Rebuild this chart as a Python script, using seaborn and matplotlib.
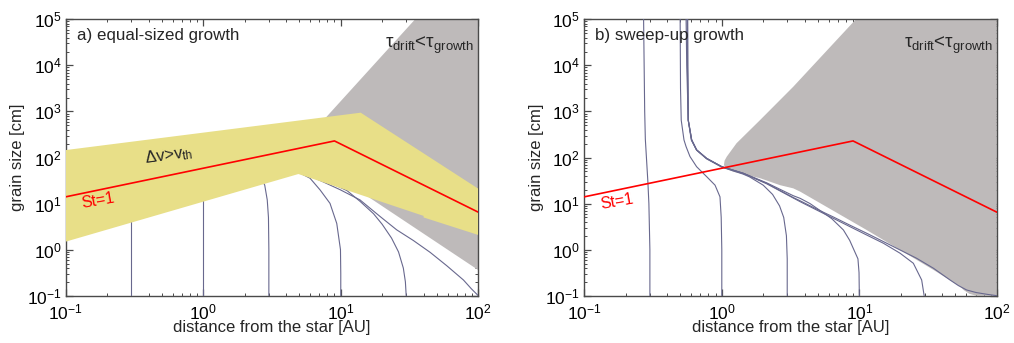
import matplotlib
matplotlib.use("Agg")
import matplotlib.pyplot as plt
import seaborn as sns
from matplotlib.ticker import FixedLocator, LogLocator, LogFormatterMathtext, NullFormatter

# ---------------------------------------------------------------- data
# axis ticks
x_ticks = [0.1, 1.0, 10.0, 100.0]
y_ticks = [0.1, 1.0, 10.0, 100.0, 1e3, 1e4, 1e5]

# Stokes number unity line (distance [AU], grain size [cm])
st1_x = [0.1, 9.0, 100.0]
st1_y = [14.0, 229.0, 6.5]

# fragmentation band (relative velocity above threshold), panel a
band_upper_x = [0.1, 13.96, 100.0]
band_upper_y = [145.0, 940.0, 21.0]
band_lower_x = [100.0, 40.0, 40.0, 4.92, 0.1]
band_lower_y = [2.08, 5.0, 5.4, 43.8, 1.49]

# drift-dominated region, panel a
drift_a_x = [4.8, 34.7, 100.0, 100.0]
drift_a_y = [150.0, 1e5, 1e5, 0.36]

# drift-dominated region, panel b
drift_b_x = [9.44, 100.0, 100.0, 70.8, 63.1, 57.5, 54.0, 34.6, 11.3, 3.71, 3.31,
             2.65, 1.90, 1.21, 1.07, 1.037, 1.047, 1.086, 1.28, 1.90, 3.31, 9.44]
drift_b_y = [1e5, 1e5, 0.1, 0.1, 0.11, 0.132, 0.158, 0.363, 2.67, 18.2, 21.4,
             25.1, 35.5, 49.2, 57.5, 68.7, 85.1, 104.0, 204.0, 652.0, 3443.0, 1e5]

# growth tracks, panel a (equal-sized growth)
a_tracks = {
    "0.3": ([0.3, 0.3], [0.1, 5.0]),
    "1": ([1.0, 1.0], [0.1, 13.0]),
    "3": ([3.0, 3.0, 2.98, 2.92, 2.80, 2.70], [0.1, 1.0, 5.0, 12.0, 25.0, 32.0]),
    "10": ([10.0, 10.0, 9.95, 9.35, 8.35, 7.08, 5.98, 5.2, 4.9],
           [0.1, 0.3, 1.0, 3.7, 10.1, 19.7, 35.5, 44.0, 48.0]),
    "30": ([29.9, 29.5, 28.5, 26.3, 23.4, 20.0, 17.3, 13.8, 11.1, 8.83, 7.46, 6.31, 5.5],
           [0.1, 0.2, 0.398, 0.891, 1.78, 3.55, 6.03, 11.2, 19.1, 26.3, 31.6, 38.0, 42.7]),
    "100": ([100.0, 89.1, 78.0, 59.0, 44.7, 33.7, 25.5, 19.3, 13.8, 9.89, 7.46, 6.31, 5.5],
            [0.1, 0.141, 0.219, 0.447, 0.871, 1.58, 2.69, 5.25, 12.0, 20.0, 29.5, 37.2, 42.7]),
}

# growth tracks, panel b (sweep-up growth)
b_tracks = {
    "0.3": ([0.30, 0.30, 0.295, 0.29, 0.278, 0.275, 0.27],
            [0.1, 1.0, 10.0, 30.0, 250.0, 1e3, 1e5]),
    "1": ([1.0, 1.0, 0.99, 0.97, 0.893, 0.776, 0.656, 0.587, 0.55, 0.531, 0.507, 0.501, 0.498],
          [0.1, 1.0, 5.0, 14.0, 25.1, 38.4, 63.1, 105.0, 172.0, 240.0, 646.0, 3162.0, 1e5]),
    "3": ([2.99, 2.99, 2.95, 2.82, 2.63, 2.34, 2.0, 1.59, 1.43, 1.0, 0.776, 0.656, 0.60, 0.57, 0.556, 0.55],
          [0.1, 0.63, 2.0, 5.0, 8.9, 15.8, 25.1, 38.0, 43.6, 61.7, 93.3, 144.0, 240.0, 646.0, 1e4, 1e5]),
    "10": ([10.0, 9.95, 9.77, 9.12, 8.51, 7.66, 6.31, 5.79, 4.38, 3.71, 3.31, 2.12, 1.43, 1.0,
            0.776, 0.656, 0.604, 0.57, 0.562, 0.56],
           [0.1, 0.316, 0.631, 1.0, 1.59, 2.67, 4.68, 5.62, 10.0, 13.0, 14.8, 28.2, 45.7, 63.1,
            95.5, 146.0, 240.0, 646.0, 1e4, 1e5]),
    "30": ([29.6, 28.4, 24.7, 19.8, 15.0, 11.3, 8.55, 6.46, 4.90, 3.71, 3.31, 2.12, 1.43, 1.0,
            0.776, 0.656, 0.604, 0.57, 0.565, 0.563],
           [0.1, 0.219, 0.506, 0.834, 1.37, 2.08, 3.15, 4.79, 7.24, 11.0, 13.2, 26.9, 45.2, 63.1,
            95.5, 146.0, 240.0, 646.0, 1e4, 1e5]),
    "100": ([100.0, 85.1, 70.8, 60.3, 52.5, 45.7, 34.6, 26.1, 19.8, 15.0, 11.3, 8.55, 6.46, 4.90,
             3.71, 3.31, 2.12, 1.43, 1.0, 0.776, 0.656, 0.604, 0.571, 0.566, 0.565],
            [0.1, 0.107, 0.117, 0.133, 0.166, 0.219, 0.394, 0.649, 0.982, 1.49, 2.27, 3.39, 5.13,
             7.59, 11.5, 13.5, 27.5, 45.5, 63.3, 95.7, 146.5, 241.0, 646.0, 1e4, 1e5]),
}

# ---------------------------------------------------------------- style
sns.set_theme(style="ticks")
plt.rcParams["font.family"] = ["Liberation Sans", "DejaVu Sans"]
plt.rcParams["mathtext.fontset"] = "custom"
plt.rcParams["mathtext.rm"] = "Liberation Sans"
plt.rcParams["mathtext.it"] = "Liberation Sans:italic"
plt.rcParams["mathtext.bf"] = "Liberation Sans:bold"
plt.rcParams["mathtext.default"] = "regular"
plt.rcParams["axes.unicode_minus"] = False

YELLOW = "#e8df88"
GREY = "#bebaba"
TRACK = "#68688e"
RED = "#ff0000"
FRAME = "#4a4a4a"

fig = plt.figure(figsize=(10.14, 3.43), dpi=100)
ax_a = fig.add_axes([0.0648, 0.1379, 0.4069, 0.8058])
ax_b = fig.add_axes([0.5762, 0.1379, 0.4069, 0.8058])


class InRangeMinor(LogLocator):
    """Log minor ticks restricted to the visible range."""

    def __call__(self):
        lo, hi = sorted(self.axis.get_view_interval())
        return [t for t in super().__call__() if lo * 0.999 <= t <= hi * 1.001]


def style_axes(ax):
    ax.set_xscale("log")
    ax.set_yscale("log")
    ax.set_xlim(x_ticks[0], x_ticks[-1])
    ax.set_ylim(y_ticks[0], y_ticks[-1])
    ax.xaxis.set_major_locator(FixedLocator(x_ticks))
    ax.yaxis.set_major_locator(FixedLocator(y_ticks))
    ax.xaxis.set_minor_locator(InRangeMinor(base=10, subs=range(2, 10), numticks=30))
    ax.yaxis.set_minor_locator(InRangeMinor(base=10, subs=range(2, 10), numticks=30))
    ax.xaxis.set_major_formatter(LogFormatterMathtext())
    ax.yaxis.set_major_formatter(LogFormatterMathtext())
    ax.xaxis.set_minor_formatter(NullFormatter())
    ax.yaxis.set_minor_formatter(NullFormatter())
    ax.tick_params(which="both", direction="in", top=True, right=True,
                   color=FRAME, labelsize=12.5, labelcolor="black")
    ax.tick_params(which="major", length=5, width=0.9)
    ax.tick_params(which="minor", length=2.5, width=0.7)
    ax.tick_params(axis="x", which="major", pad=5)
    ax.tick_params(axis="y", which="major", pad=3)
    for sp in ax.spines.values():
        sp.set_color(FRAME)
        sp.set_linewidth(1.0)
    ax.set_xlabel("distance from the star [AU]", fontsize=12, labelpad=-1.5)
    ax.set_ylabel("grain size [cm]", fontsize=12, labelpad=1)


def draw_tracks(ax, tracks):
    for xs, ys in tracks.values():
        sns.lineplot(x=xs, y=ys, ax=ax, color=TRACK, lw=0.8, sort=False,
                     estimator=None, zorder=3)


for ax in (ax_a, ax_b):
    style_axes(ax)

# ---- panel a: equal-sized growth
ax_a.fill(drift_a_x, drift_a_y, color=GREY, lw=0, zorder=1)
draw_tracks(ax_a, a_tracks)
ax_a.fill(band_upper_x + band_lower_x, band_upper_y + band_lower_y,
          color=YELLOW, lw=0, zorder=4)
sns.lineplot(x=st1_x, y=st1_y, ax=ax_a, color=RED, lw=1.2, sort=False,
             estimator=None, zorder=5)
ax_a.text(0.027, 0.968, "a) equal-sized growth", transform=ax_a.transAxes,
          ha="left", va="top", fontsize=12.2, zorder=6)
ax_a.text(0.99, 0.945, r"$\tau_{drift}$<$\tau_{growth}$", transform=ax_a.transAxes,
          ha="right", va="top", fontsize=13.5, zorder=6)
ax_a.text(0.56, 110, r"$\Delta$v>v$_{th}$", ha="center", va="center",
          fontsize=12, rotation=8, zorder=6)
ax_a.text(0.172, 11.5, "St=1", color=RED, ha="center", va="center",
          fontsize=11.5, rotation=10, zorder=6)

# ---- panel b: sweep-up growth
ax_b.fill(drift_b_x, drift_b_y, color=GREY, lw=0, zorder=1)
draw_tracks(ax_b, b_tracks)
sns.lineplot(x=st1_x, y=st1_y, ax=ax_b, color=RED, lw=1.2, sort=False,
             estimator=None, zorder=5)
ax_b.text(0.027, 0.968, "b) sweep-up growth", transform=ax_b.transAxes,
          ha="left", va="top", fontsize=12.2, zorder=6)
ax_b.text(0.99, 0.945, r"$\tau_{drift}$<$\tau_{growth}$", transform=ax_b.transAxes,
          ha="right", va="top", fontsize=13.5, zorder=6)
ax_b.text(0.172, 11.0, "St=1", color=RED, ha="center", va="center",
          fontsize=11.5, rotation=10, zorder=6)

for ax in (ax_a, ax_b):
    ax.set_xlim(x_ticks[0], x_ticks[-1])
    ax.set_ylim(y_ticks[0], y_ticks[-1])

fig.savefig("out.png", dpi=100, facecolor="white")
